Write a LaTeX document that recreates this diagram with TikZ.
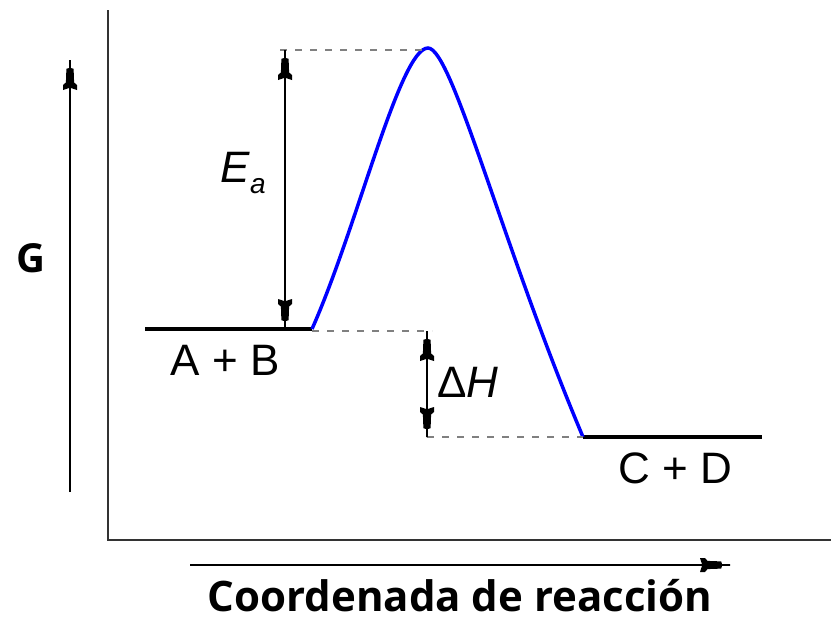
\documentclass[tikz,border=0pt]{standalone}
\usepackage{fontspec}
\setmainfont{Liberation Sans}
\newfontfamily\boldfont{Open Sans}
\usetikzlibrary{arrows.meta}
\pgfdeclarearrow{
  name = Pin,
  setup code = {
    \pgfarrowssettipend{0pt}
    \pgfarrowssetbackend{-30pt}
    \pgfarrowssetlineend{-27pt}
    \pgfarrowssetvisualbackend{-27pt}
  },
  drawing code = {
    \pgfpathmoveto{\pgfqpoint{0pt}{0.9pt}}
    \pgfpathlineto{\pgfqpoint{-8pt}{0.9pt}}
    \pgfpathlineto{\pgfqpoint{-8.8pt}{3.6pt}}
    \pgfpathlineto{\pgfqpoint{-22.5pt}{4.1pt}}
    \pgfpathlineto{\pgfqpoint{-25pt}{7pt}}
    \pgfpathlineto{\pgfqpoint{-30pt}{7pt}}
    \pgfpathlineto{\pgfqpoint{-28pt}{0.9pt}}
    \pgfpathlineto{\pgfqpoint{-28pt}{-0.9pt}}
    \pgfpathlineto{\pgfqpoint{-30pt}{-7pt}}
    \pgfpathlineto{\pgfqpoint{-25pt}{-7pt}}
    \pgfpathlineto{\pgfqpoint{-22.5pt}{-4.1pt}}
    \pgfpathlineto{\pgfqpoint{-8.8pt}{-3.6pt}}
    \pgfpathlineto{\pgfqpoint{-8pt}{-0.9pt}}
    \pgfpathlineto{\pgfqpoint{0pt}{-0.9pt}}
    \pgfpathclose
    \pgfusepathqfill
  }
}
\begin{document}
\begin{tikzpicture}[x=1pt,y=-1pt,
  axis/.style={line width=2.4pt,draw=black!80},
  level/.style={line width=4pt},
  guide/.style={draw=gray,line width=1.3pt,dash pattern=on 7pt off 8pt},
  pin/.style={line width=1.8pt,-{Pin}},
  dpin/.style={line width=1.8pt,{Pin}-{Pin}},
  lab/.style={font=\fontsize{44}{44}\selectfont},
  blab/.style={font=\boldfont\bfseries\fontsize{42}{42}\selectfont}]
\useasboundingbox (0,0) rectangle (831,619);
% frame axes
\coordinate (o) at (108,540);
\coordinate (ytop) at (108,10);
\coordinate (xend) at (831,540);
\draw[axis] (ytop) -- (o) -- (xend);
% direction arrows
\coordinate (ya) at (70,492);
\coordinate (yb) at (70,60);
\draw[pin] (ya) -- (yb);
\coordinate (xa) at (190,565);
\coordinate (xb) at (730,565);
\draw[pin] (xa) -- (xb);
% levels
\coordinate (r1) at (145,329);
\coordinate (r2) at (312,329);
\coordinate (p1) at (583,437);
\coordinate (p2) at (762,437);
\coordinate (peak) at (428,48);
\draw[level] (r1) -- (r2);
\draw[level] (p1) -- (p2);
% curve
\draw[blue,line width=3.5pt] (r2) .. controls (357,228) and (400,48) .. (peak)
  .. controls (452,48) and (502,245) .. (p1);
% guides
\coordinate (t1) at (280,50);
\coordinate (t2) at (428,50);
\coordinate (m1) at (312,331);
\coordinate (m2) at (432,331);
\coordinate (b1) at (427,437);
\draw[guide] (t1) -- (t2);
\draw[guide] (m1) -- (m2);
\draw[guide] (b1) -- (p1);
% Ea and dH arrows
\coordinate (ea1) at (285,50);
\coordinate (ea2) at (285,329);
\draw[dpin] (ea1) -- (ea2);
\coordinate (dh1) at (427,331);
\coordinate (dh2) at (427,437);
\draw[dpin] (dh1) -- (dh2);
% labels
\node[lab] (ab) at (225,360) {A + B};
\node[lab] (cd) at (675,468) {C + D};
\node[lab] (ea) at (243,173) {\textit{E}\raisebox{-0.25em}{\fontsize{28}{28}\selectfont\textit{a}}};
\node[lab] (dh) at (468,382) {Δ\textit{H}};
\node[blab,font=\boldfont\bfseries\fontsize{40}{40}\selectfont] (g) at (31,258) {G};
\node[blab,anchor=base,inner sep=0pt,text depth=0pt] (xl) at (460,611) {Coordenada de reacción};
\end{tikzpicture}
\end{document}
